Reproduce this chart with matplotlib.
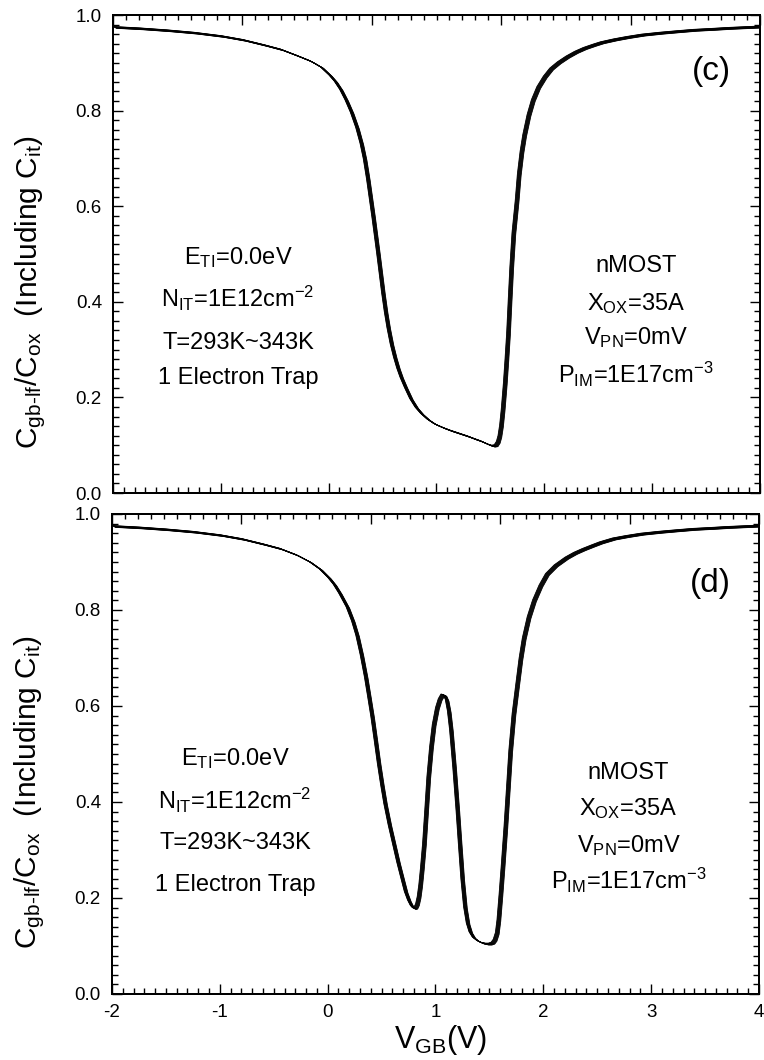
import numpy as np
import matplotlib
matplotlib.use('Agg')
import matplotlib.pyplot as plt
from matplotlib.ticker import MultipleLocator, NullFormatter

plt.rcParams['font.family'] = ['Liberation Sans', 'DejaVu Sans']
plt.rcParams['mathtext.fontset'] = 'custom'
plt.rcParams['mathtext.rm'] = 'Liberation Sans'
plt.rcParams['mathtext.it'] = 'Liberation Sans:italic'
plt.rcParams['mathtext.bf'] = 'Liberation Sans:bold'

# C-V curve, panel (c): 293 K reference curve
vgb_c = [-2.00, -1.75, -1.50, -1.25, -1.00, -0.80, -0.60, -0.45, -0.30, -0.18,
         -0.08, 0.00, 0.05, 0.10, 0.15, 0.20, 0.25, 0.29, 0.32, 0.35,
         0.375, 0.40, 0.445, 0.49, 0.515, 0.54, 0.57, 0.60, 0.63, 0.66,
         0.70, 0.75, 0.80, 0.85, 0.91, 0.97, 1.05, 1.12, 1.20, 1.28,
         1.35, 1.40, 1.45, 1.48, 1.51, 1.535, 1.555, 1.57, 1.585, 1.60,
         1.62, 1.635, 1.65, 1.665, 1.68, 1.70, 1.73, 1.75, 1.775, 1.80,
         1.84, 1.88, 1.93, 1.99, 2.05, 2.12, 2.20, 2.28, 2.36, 2.45,
         2.52, 2.64, 2.76, 2.90, 3.07, 3.22, 3.38, 3.55, 3.70, 3.85,
         4.00]
cgb_c = [0.976, 0.973, 0.969, 0.964, 0.957, 0.949, 0.938, 0.929, 0.916, 0.905,
         0.892, 0.875, 0.862, 0.845, 0.823, 0.797, 0.765, 0.732, 0.700, 0.658,
         0.618, 0.578, 0.501, 0.420, 0.380, 0.346, 0.312, 0.285, 0.262, 0.243,
         0.222, 0.198, 0.180, 0.167, 0.155, 0.146, 0.138, 0.132, 0.126, 0.120,
         0.114, 0.110, 0.105, 0.102, 0.100, 0.101, 0.108, 0.120, 0.142, 0.175,
         0.230, 0.280, 0.334, 0.405, 0.473, 0.545, 0.613, 0.668, 0.715, 0.750,
         0.792, 0.823, 0.850, 0.872, 0.889, 0.902, 0.914, 0.924, 0.932, 0.939,
         0.944, 0.950, 0.955, 0.960, 0.964, 0.967, 0.970, 0.972, 0.974, 0.9755,
         0.977]

# panel (d): electron trap adds the peak near 1.05 V
vgb_d = [-2.00, -1.75, -1.50, -1.25, -1.00, -0.80, -0.60, -0.45, -0.30, -0.18,
         -0.08, 0.00, 0.05, 0.10, 0.17, 0.22, 0.26, 0.30, 0.34, 0.37,
         0.40, 0.43, 0.46, 0.49, 0.52, 0.56, 0.60, 0.64, 0.68, 0.71,
         0.74, 0.765, 0.785, 0.80, 0.815, 0.83, 0.845, 0.86, 0.88, 0.90,
         0.92, 0.945, 0.97, 1.00, 1.025, 1.05, 1.07, 1.09, 1.11, 1.13,
         1.16, 1.19, 1.21, 1.235, 1.26, 1.285, 1.31, 1.34, 1.38, 1.42,
         1.46, 1.49, 1.515, 1.535, 1.555, 1.57, 1.59, 1.61, 1.635, 1.66,
         1.68, 1.71, 1.745, 1.775, 1.805, 1.85, 1.90, 1.96, 2.02, 2.10,
         2.20, 2.28, 2.36, 2.45, 2.52, 2.64, 2.76, 2.90, 3.07, 3.22,
         3.38, 3.55, 3.70, 3.85, 4.00]
cgb_d = [0.976, 0.973, 0.969, 0.964, 0.957, 0.949, 0.938, 0.929, 0.916, 0.902,
         0.886, 0.868, 0.854, 0.836, 0.807, 0.778, 0.748, 0.708, 0.661, 0.620,
         0.578, 0.530, 0.481, 0.437, 0.397, 0.353, 0.314, 0.275, 0.240, 0.214,
         0.196, 0.185, 0.180, 0.181, 0.188, 0.203, 0.228, 0.262, 0.314, 0.383,
         0.453, 0.515, 0.562, 0.597, 0.615, 0.625, 0.624, 0.614, 0.590, 0.551,
         0.472, 0.383, 0.318, 0.240, 0.182, 0.148, 0.130, 0.119, 0.112, 0.108,
         0.106, 0.106, 0.108, 0.114, 0.128, 0.155, 0.210, 0.270, 0.349, 0.437,
         0.508, 0.584, 0.647, 0.700, 0.742, 0.786, 0.821, 0.852, 0.876, 0.894,
         0.910, 0.920, 0.928, 0.936, 0.942, 0.950, 0.955, 0.960, 0.964, 0.967,
         0.970, 0.972, 0.974, 0.9755, 0.977]

# temperature sweep and offset of each curve from the 293 K one
temps = [293, 298, 303, 308, 313, 318, 323, 328, 333, 338, 343]
shift_v = [0.000, 0.0035, 0.007, 0.0105, 0.014, 0.0175, 0.021, 0.0245, 0.028, 0.0315, 0.035]
shift_c = [0.000, -0.0004, -0.0008, -0.0012, -0.0016, -0.002, -0.0024, -0.0028, -0.0032, -0.0036, -0.004]

left_lines = [r'E$_{\mathrm{TI}}$=0.0eV', r'N$_{\mathrm{IT}}$=1E12cm$^{\mathrm{-2}}$',
              'T=293K~343K', '1 Electron Trap']
right_lines = ['nMOST', r'X$_{\mathrm{OX}}$=35A', r'V$_{\mathrm{PN}}$=0mV',
               r'P$_{\mathrm{IM}}$=1E17cm$^{\mathrm{-3}}$']

fig = plt.figure(figsize=(7.64, 10.6), dpi=100)
ax1 = fig.add_axes([113 / 764, 1 - 493 / 1060, 647 / 764, 478 / 1060])
ax2 = fig.add_axes([112 / 764, 1 - 994 / 1060, 647 / 764, 480 / 1060])

ylab = r'C$_{\mathrm{gb‐lf}}$/C$_{\mathrm{ox}}$  (Including C$_{\mathrm{it}}$)'

panels = [
    (ax1, vgb_c, cgb_c, '(c)', 0.881, -0.84, [0.493, 0.406, 0.313, 0.240], 2.85, [0.475, 0.397, 0.326, 0.247]),
    (ax2, vgb_d, cgb_d, '(d)', 0.856, -0.86, [0.490, 0.404, 0.315, 0.228], 2.79, [0.460, 0.387, 0.310, 0.237]),
]

for ax, v, c, tag, tag_y, lx, ly, rx, ry in panels:
    for dv, dc in zip(shift_v, shift_c):
        ax.plot(np.array(v) + dv, np.array(c) + dc, color='black', lw=0.55)

    ax.set_xlim(-2, 4)
    ax.set_ylim(0, 1)
    ax.xaxis.set_major_locator(MultipleLocator(1))
    ax.xaxis.set_minor_locator(MultipleLocator(0.1))
    ax.yaxis.set_major_locator(MultipleLocator(0.2))
    ax.yaxis.set_minor_locator(MultipleLocator(0.02))
    ax.yaxis.set_major_formatter(plt.FormatStrFormatter('%.1f'))
    ax.tick_params(which='both', direction='in', right=True, top=False, labelsize=13.5, width=1.0)
    ax.tick_params(which='major', length=7.5, pad=8)
    ax.tick_params(which='minor', length=4)
    for sp in ax.spines.values():
        sp.set_linewidth(1.4)

    # top axis carries its own tick spacing, no labels
    top = ax.twiny()
    top.set_xlim(0, 5)
    top.xaxis.set_major_locator(MultipleLocator(1))
    top.xaxis.set_minor_locator(MultipleLocator(0.1))
    top.xaxis.set_major_formatter(NullFormatter())
    top.tick_params(which='both', direction='in', width=1.0)
    top.tick_params(which='major', length=7.5)
    top.tick_params(which='minor', length=3.8)
    for sp in top.spines.values():
        sp.set_linewidth(1.4)

    ax.text(3.55, tag_y, tag, fontsize=24, ha='center', va='center')
    for s, y in zip(left_lines, ly):
        ax.text(lx, y, s, fontsize=17, ha='center', va='center')
    for s, y in zip(right_lines, ry):
        ax.text(rx, y, s, fontsize=17, ha='center', va='center')

    ax.text(-0.127, 0.42, ylab, fontsize=21.5, rotation=90, ha='center', va='center',
            transform=ax.transAxes)

ax1.tick_params(axis='x', labelbottom=False)
ax2.xaxis.set_major_formatter(plt.FormatStrFormatter('%d'))
ax2.tick_params(axis='x', pad=7)
ax2.text(0.5085, -0.096, r'V$_{\mathrm{GB}}$(V)', fontsize=22, ha='center', va='center',
         transform=ax2.transAxes)

fig.savefig('out.png', dpi=100)
